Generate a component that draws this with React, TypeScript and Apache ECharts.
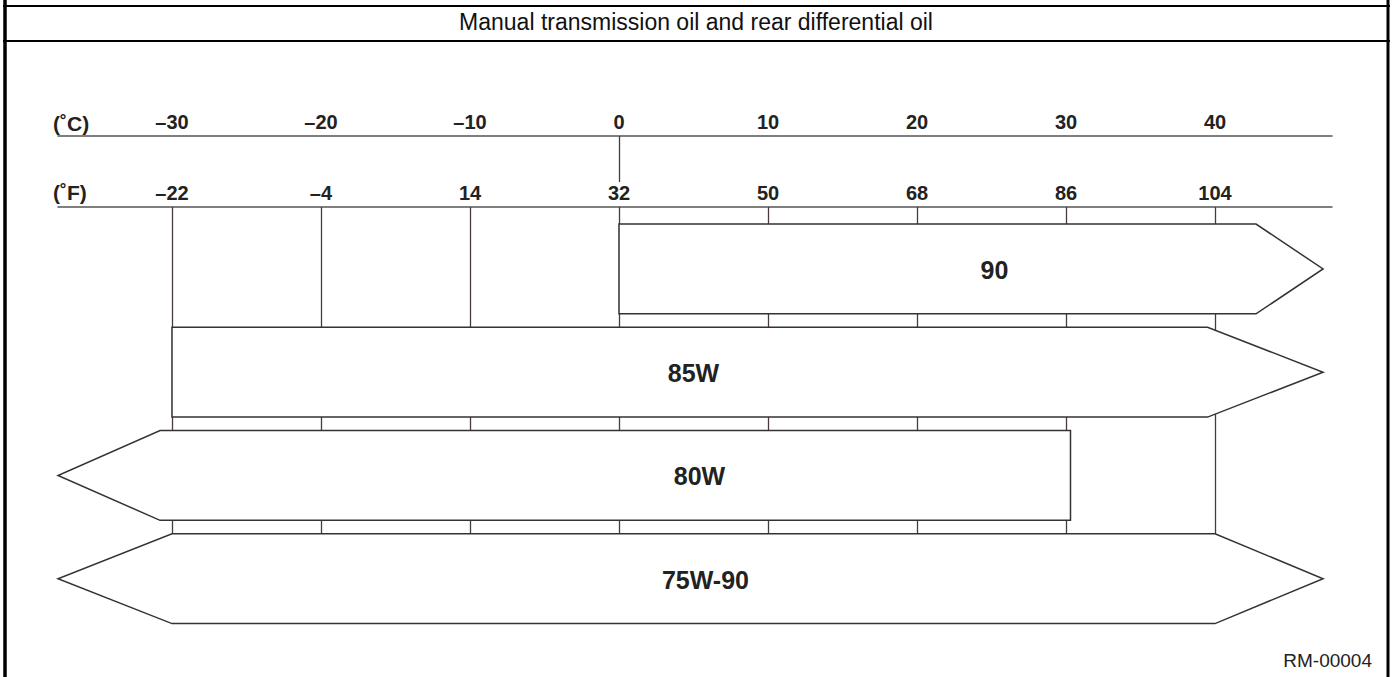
import React, { useEffect, useRef } from "react";
import * as echarts from "echarts";

// ---- data ----
const titleText = "Manual transmission oil and rear differential oil";
const footText = "RM-00004";
const cTicks = [-30, -20, -10, 0, 10, 20, 30, 40];
const fTicks = [-22, -4, 14, 32, 50, 68, 86, 104];
const cGuideTicks = [0];
const axisMinC = -37.65;
const axisMaxC = 47.85;
const bandNames = ["90", "85W", "80W", "75W-90"];
const bandStart = [0, -30, -30.8, -30];
const bandEnd = [42.75, 39.5, 30.3, 40];
const bandLeftTip = [0, -30, -37.65, -37.65];
const bandRightTip = [47.25, 47.25, 30.3, 47.25];
const bandLabelAt = [25.2, 5.0, 5.4, 5.8];

const FONT = '"Liberation Sans", Arial, Helvetica, sans-serif';
const fmt = (v: number) => (v < 0 ? "\u2013" + Math.abs(v) : String(v));
const toF = (c: number) => c * 1.8 + 32;

export default function App() {
  const ref = useRef<HTMLDivElement>(null);
  useEffect(() => {
    if (!ref.current) return;
    const chart = echarts.init(ref.current, null, { renderer: "svg" });
    const bandData = bandNames.map((_, i) => [
      i,
      bandStart[i],
      bandEnd[i],
      bandLeftTip[i],
      bandRightTip[i],
      bandLabelAt[i],
    ]);
    const labelStyle = {
      color: "#222",
      fontWeight: "bold" as const,
      fontSize: 20,
      fontFamily: FONT,
      margin: 4,
    };
    chart.setOption({
      animation: false,
      backgroundColor: "#fff",
      grid: { left: 58, right: 63, top: 207, bottom: 57, containLabel: false },
      xAxis: [
        {
          type: "value",
          position: "top",
          offset: 71,
          min: axisMinC,
          max: axisMaxC,
          axisLine: { show: true, onZero: false, lineStyle: { color: "#555", width: 1.5 } },
          axisTick: {
            show: true,
            customValues: cGuideTicks,
            inside: true,
            length: 46,
            lineStyle: { color: "#4a3a3a", width: 1.3 },
          },
          axisLabel: { ...labelStyle, customValues: cTicks, formatter: fmt },
          splitLine: { show: false },
        },
        {
          type: "value",
          position: "top",
          offset: 0,
          min: toF(axisMinC),
          max: toF(axisMaxC),
          axisLine: { show: true, onZero: false, lineStyle: { color: "#555", width: 1.5 } },
          axisTick: {
            show: true,
            customValues: fTicks,
            inside: true,
            length: 330,
            lineStyle: { color: "#4a3a3a", width: 1.3 },
          },
          axisLabel: { ...labelStyle, customValues: fTicks, formatter: fmt },
          splitLine: { show: false },
        },
      ],
      yAxis: {
        type: "value",
        min: 0,
        max: 4,
        inverse: true,
        show: false,
        splitLine: { show: false },
      },
      series: [
        {
          type: "custom",
          xAxisIndex: 0,
          yAxisIndex: 0,
          z: 5,
          data: bandData,
          encode: { x: [1, 2, 3, 4, 5], y: 0 },
          renderItem: (params: any, api: any) => {
            const r = api.value(0);
            const s = api.value(1);
            const e = api.value(2);
            const lt = api.value(3);
            const rt = api.value(4);
            const la = api.value(5);
            const c = r + 0.6;
            const t = c - 0.435;
            const b = c + 0.435;
            const P = (x: number, y: number) => api.coord([x, y]);
            const points = [P(s, t), P(e, t), P(rt, c), P(e, b), P(s, b), P(lt, c)];
            const lp = P(la, c);
            return {
              type: "group",
              children: [
                {
                  type: "polygon",
                  shape: { points },
                  style: { fill: "#fff", stroke: "#333", lineWidth: 1.5 },
                },
                {
                  type: "text",
                  x: lp[0],
                  y: lp[1] + 1,
                  style: {
                    text: bandNames[params.dataIndex],
                    fill: "#222",
                    fontSize: 25,
                    fontWeight: "bold",
                    fontFamily: FONT,
                    align: "center",
                    verticalAlign: "middle",
                  },
                },
              ],
            };
          },
        },
      ],
      graphic: [
        { type: "line", shape: { x1: 5, y1: 0, x2: 5, y2: 677 }, style: { stroke: "#000", lineWidth: 3.5 } },
        { type: "line", shape: { x1: 1388, y1: 0, x2: 1388, y2: 677 }, style: { stroke: "#000", lineWidth: 3 } },
        { type: "line", shape: { x1: 3, y1: 6, x2: 1390, y2: 6 }, style: { stroke: "#000", lineWidth: 2.2 } },
        { type: "line", shape: { x1: 3, y1: 41, x2: 1390, y2: 41 }, style: { stroke: "#000", lineWidth: 2.2 } },
        {
          type: "text",
          x: 696,
          y: 22,
          style: {
            text: titleText,
            fill: "#111",
            fontSize: 23,
            fontFamily: FONT,
            align: "center",
            verticalAlign: "middle",
          },
        },
        {
          type: "text",
          x: 53,
          y: 123,
          style: { text: "(\u02DAC)", fill: "#222", fontSize: 21, fontWeight: "bold", fontFamily: FONT, align: "left", verticalAlign: "middle" },
        },
        {
          type: "text",
          x: 53,
          y: 192,
          style: { text: "(\u02DAF)", fill: "#222", fontSize: 21, fontWeight: "bold", fontFamily: FONT, align: "left", verticalAlign: "middle" },
        },
        {
          type: "text",
          x: 1372,
          y: 660,
          style: { text: footText, fill: "#222", fontSize: 19, fontFamily: FONT, align: "right", verticalAlign: "middle" },
        },
      ],
    });
    return () => chart.dispose();
  }, []);
  return (
    <div
      ref={ref}
      style={{ position: "fixed", left: 0, top: 0, width: 1395, height: 677, background: "#fff" }}
    />
  );
}
